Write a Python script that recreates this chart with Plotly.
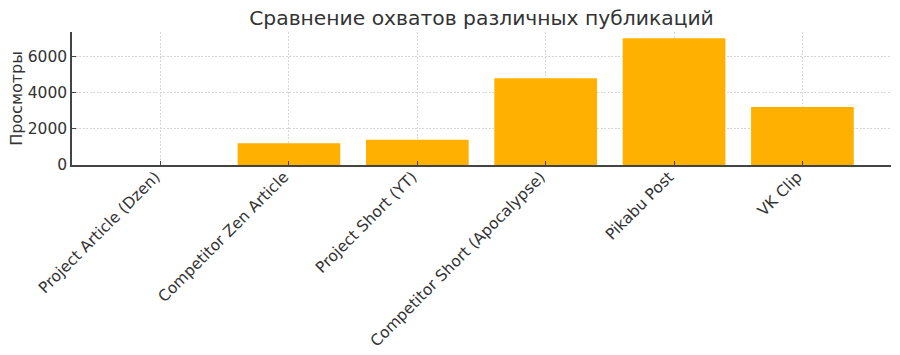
import plotly.graph_objects as go

categories = ["Project Article (Dzen)", "Competitor Zen Article", "Project Short (YT)",
              "Competitor Short (Apocalypse)", "Pikabu Post", "VK Clip"]
views = [0, 1200, 1400, 4800, 7000, 3200]
y_ticks = [0, 2000, 4000, 6000]

font_family = "DejaVu Sans"
text_color = "#333333"
axis_color = "#444444"
grid_color = "#d6d6d6"

fig = go.Figure(go.Bar(x=list(range(len(categories))), y=views, width=0.8,
                       marker=dict(color="#FFB000", line=dict(width=0))))

fig.update_layout(
    width=900, height=355,
    margin=dict(l=72, r=9, t=32, b=190),
    paper_bgcolor="white", plot_bgcolor="white",
    font=dict(family=font_family, color=text_color, size=15.5),
    title=dict(text="Сравнение охватов различных публикаций", x=0.5, xref="paper",
               xanchor="center", y=1 - 18 / 355, yanchor="middle",
               font=dict(size=20.3, color=text_color)),
    showlegend=False,
)
fig.update_xaxes(
    range=[-0.69, 5.69], tickmode="array", tickvals=list(range(len(categories))),
    ticktext=categories, tickangle=-45, ticks="inside", ticklen=4, tickcolor=axis_color,
    showline=True, linecolor=axis_color, linewidth=1.5, automargin=False,
    ticklabelshift=-5, ticklabelstandoff=-5,
    showgrid=True, gridcolor=grid_color, griddash="2px,1.5px", gridwidth=1,
    zeroline=False, tickfont=dict(size=15.5),
)
fig.update_yaxes(
    range=[0, 7350], tickmode="array", tickvals=y_ticks, ticks="inside", ticklen=4,
    tickcolor=axis_color, showline=True, linecolor=axis_color, linewidth=1.5,
    showgrid=True, gridcolor=grid_color, griddash="2px,1.5px", gridwidth=1,
    zeroline=False, tickfont=dict(size=15.5), automargin=False,
    title=dict(text="Просмотры", font=dict(size=16), standoff=1),
)
fig.write_html("out.html")
